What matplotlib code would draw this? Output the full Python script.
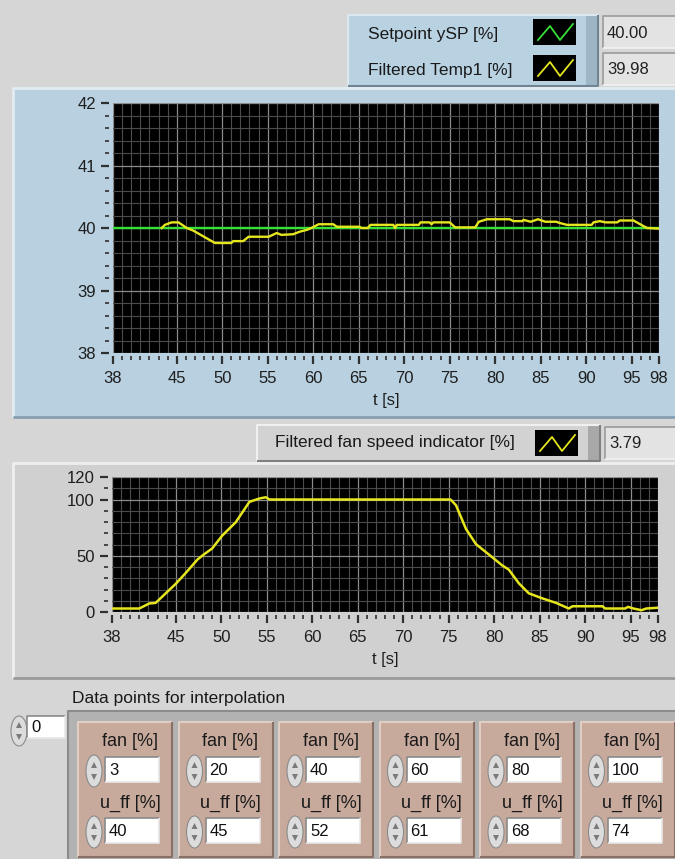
import numpy as np
import matplotlib
matplotlib.use("Agg")
import matplotlib.pyplot as plt
from matplotlib.patches import Rectangle, Ellipse, Polygon

plt.rcParams["font.family"] = ["Liberation Sans", "DejaVu Sans"]

W, H = 675, 859

# upper graph: setpoint and filtered temperature
t_sp = [38, 98]
ysp = [40.0, 40.0]
t_temp = [43.35, 43.7, 44.45, 45.2, 46.1, 46.8, 49.2, 51.0, 51.2, 52.3, 52.9,
          55.1, 56.0, 56.5, 57.8, 58.5, 59.3, 59.8, 60.6, 62.2, 62.6, 65.1,
          65.3, 66.0, 66.3, 68.8, 69.0, 69.2, 71.6, 71.8, 72.8, 73.0, 73.2,
          75.0, 75.6, 77.8, 78.2, 79.1, 81.6, 82.0, 83.0, 83.1, 83.9, 84.7,
          85.5, 86.7, 87.1, 87.9, 90.6, 90.8, 91.5, 92.1, 93.4, 93.7, 95.2,
          96.3, 96.7, 98.0]
temp1 = [40.00, 40.05, 40.09, 40.09, 40.00, 39.96, 39.76, 39.76, 39.79, 39.79, 39.86,
         39.86, 39.92, 39.89, 39.90, 39.94, 39.97, 40.00, 40.06, 40.06, 40.02, 40.02,
         40.00, 40.00, 40.05, 40.05, 40.00, 40.05, 40.05, 40.09, 40.09, 40.06, 40.09,
         40.09, 40.01, 40.01, 40.10, 40.14, 40.14, 40.11, 40.11, 40.13, 40.10, 40.14,
         40.10, 40.10, 40.08, 40.05, 40.05, 40.09, 40.11, 40.09, 40.09, 40.12, 40.12,
         40.03, 40.00, 39.99]

# lower graph: filtered fan speed
t_fan = [38.0, 41.0, 42.1, 42.8, 43.9, 45.0, 46.1, 47.4, 48.1, 49.0, 50.1, 51.6,
         53.1, 54.2, 54.9, 55.3, 75.2, 75.8, 76.9, 78.0, 79.4, 80.9, 81.6, 82.7,
         83.8, 85.3, 86.8, 88.2, 88.6, 91.9, 92.2, 94.4, 94.7, 95.3, 96.2, 96.7, 98.0]
fan = [3.1, 3.1, 7.6, 8.1, 16.6, 25.0, 34.7, 46.7, 51.2, 56.4, 67.8, 79.8,
       97.9, 100.9, 102.0, 100.0, 100.0, 94.9, 73.8, 60.3, 51.2, 41.3, 37.7, 25.6,
       16.6, 12.1, 8.1, 3.1, 5.1, 5.1, 3.1, 3.1, 4.6, 3.1, 1.6, 3.1, 3.8]

x_major = [38, 45, 50, 55, 60, 65, 70, 75, 80, 85, 90, 95, 98]

# interpolation table
fan_pts = [3, 20, 40, 60, 80, 100]
uff_pts = [40, 45, 52, 61, 68, 74]

YELLOW = "#e6e61e"
GREEN = "#36e036"

fig = plt.figure(figsize=(W / 100, H / 100), dpi=100, facecolor="#d6d6d6")
bg = fig.add_axes([0, 0, 1, 1], zorder=0)
bg.set_xlim(0, W)
bg.set_ylim(H, 0)
bg.axis("off")


def fr(x0, y0, x1, y1):
    return [x0 / W, 1 - y1 / H, (x1 - x0) / W, (y1 - y0) / H]


def box(x0, y0, x1, y1, fc, ec="none", lw=0):
    bg.add_patch(Rectangle((x0, y0), x1 - x0, y1 - y0, fc=fc, ec=ec, lw=lw))


def bevel(x0, y0, x1, y1, light, dark, lw=1.5):
    bg.plot([x0, x0, x1], [y1, y0, y0], color=light, lw=lw, solid_capstyle="butt")
    bg.plot([x0, x1, x1], [y1, y1, y0], color=dark, lw=lw, solid_capstyle="butt")


def swatch(x0, y0, color):
    box(x0, y0, x0 + 43, y0 + 26, "black")
    bg.plot([x0 + 5, x0 + 17, x0 + 27, x0 + 40],
            [y0 + 21, y0 + 7, y0 + 21, y0 + 5], color=color, lw=1.3)


def value_box(x0, y0, x1, y1, txt):
    box(x0, y0, x1, y1, "#e3e3e3")
    bevel(x0, y0, x1, y1, "#9a9a9a", "#f2f2f2", lw=1.2)
    bg.text(x0 + 4, (y0 + y1) / 2 + 1, txt, fontsize=12, va="center", color="#202020")


def spinner(cx, cy, h=32):
    bg.add_patch(Ellipse((cx, cy), 16, h, fc="#dcdcdc", ec="#8a8a8a", lw=0.8))
    bg.add_patch(Polygon([(cx - 3, cy - 3), (cx + 3, cy - 3), (cx, cy - 9)], fc="#7a7a7a", ec="none"))
    bg.add_patch(Polygon([(cx - 3, cy + 3), (cx + 3, cy + 3), (cx, cy + 9)], fc="#7a7a7a", ec="none"))


def num_ctrl(x0, y0, x1, y1, txt):
    box(x0, y0, x1, y1, "white")
    bevel(x0, y0, x1, y1, "#8a8a8a", "#e8e8e8", lw=1.2)
    bg.text(x0 + 4, (y0 + y1) / 2 + 1, txt, fontsize=12, va="center", color="#101010")


# ---- top legend ----
box(348, 15, 598, 86, "#b9d2e2")
box(586, 15, 598, 86, "#9db6c6")
bevel(348, 15, 598, 86, "#dbe8f0", "#6f8594")
bg.text(368, 34, "Setpoint ySP [%]", fontsize=12.5, va="center", color="#1a1a1a")
bg.text(368, 70, "Filtered Temp1 [%]", fontsize=12.5, va="center", color="#1a1a1a")
swatch(533, 19, GREEN)
swatch(533, 55, YELLOW)
value_box(603, 16, 676, 48, "40.00")
value_box(603, 53, 676, 85, "39.98")

# ---- upper graph panel ----
box(13, 88, 676, 417, "#b8d0e0")
bevel(13, 88, 676, 417, "#e2edf3", "#879fb0", lw=2)

# ---- lower legend ----
box(257, 425, 600, 461, "#d2d2d2")
box(588, 425, 600, 461, "#a8a8a8")
bevel(257, 425, 600, 461, "#f0f0f0", "#808080")
bg.text(275, 443, "Filtered fan speed indicator [%]", fontsize=12.5, va="center", color="#1a1a1a")
swatch(535, 430, YELLOW)
value_box(605, 427, 676, 459, "3.79")

# ---- lower graph panel ----
box(13, 463, 676, 678, "#d0d0d0")
bevel(13, 463, 676, 678, "#efefef", "#9a9a9a", lw=2)

# ---- interpolation table ----
bg.text(72, 698, "Data points for interpolation", fontsize=12.5, va="center", color="#1a1a1a")
spinner(19, 731, 30)
num_ctrl(27, 716, 65, 738, "0")
box(68, 711, 676, 860, "#b2b2b2")
bevel(68, 711, 676, 860, "#8c8c8c", "#dcdcdc", lw=1.5)
for i, (fv, uv) in enumerate(zip(fan_pts, uff_pts)):
    xl = 78 + i * 100.5
    box(xl, 722, xl + 94, 857, "#c8aa9d")
    bevel(xl, 722, xl + 94, 857, "#e0cdc4", "#8a6f64", lw=1.5)
    bg.text(xl + 52, 742, "fan [%]", fontsize=13, ha="center", va="center", color="#1a1a1a")
    spinner(xl + 16, 771)
    num_ctrl(xl + 27, 757, xl + 81, 782, str(fv))
    bg.text(xl + 52, 803, "u_ff [%]", fontsize=13, ha="center", va="center", color="#1a1a1a")
    spinner(xl + 16, 832)
    num_ctrl(xl + 27, 818, xl + 81, 843, str(uv))


def style_graph(ax, ylim, ymajor, yminor):
    ax.set_facecolor("black")
    ax.set_xlim(38, 98)
    ax.set_ylim(*ylim)
    ax.set_xticks(x_major)
    ax.set_xticks(np.arange(38, 99, 1), minor=True)
    ax.set_yticks(ymajor)
    ax.set_yticks(yminor, minor=True)
    ax.grid(which="major", color="#8c8c8c", lw=0.9)
    ax.grid(which="minor", color="#4c4c4c", lw=0.8)
    ax.set_axisbelow(True)
    for s in ax.spines.values():
        s.set_visible(False)
    ax.spines["left"].set_position(("outward", 3))
    ax.spines["bottom"].set_position(("outward", 2))
    ax.tick_params(which="major", length=5.8, width=1.6, color="#303030",
                   labelsize=12, labelcolor="#1e1e1e")
    ax.tick_params(which="minor", length=3.2, width=1.2, color="#303030")
    ax.tick_params(axis="x", which="major", pad=5)
    ax.tick_params(axis="y", which="major", pad=3.5)
    ax.set_xlabel("t [s]", fontsize=12, labelpad=5, color="#1e1e1e")


ax1 = fig.add_axes(fr(113, 103, 659, 353), zorder=2)
style_graph(ax1, (38, 42), [38, 39, 40, 41, 42], np.arange(38, 42.01, 0.2))
ax1.plot(t_sp, ysp, color=GREEN, lw=1.7)
ax1.plot(t_temp, temp1, color=YELLOW, lw=1.7)

ax2 = fig.add_axes(fr(112, 477, 658, 612), zorder=2)
style_graph(ax2, (0, 120), [0, 50, 100, 120], np.arange(0, 121, 10))
ax2.plot(t_fan, fan, color=YELLOW, lw=1.8)

fig.savefig("out.png", dpi=100, facecolor=fig.get_facecolor())
